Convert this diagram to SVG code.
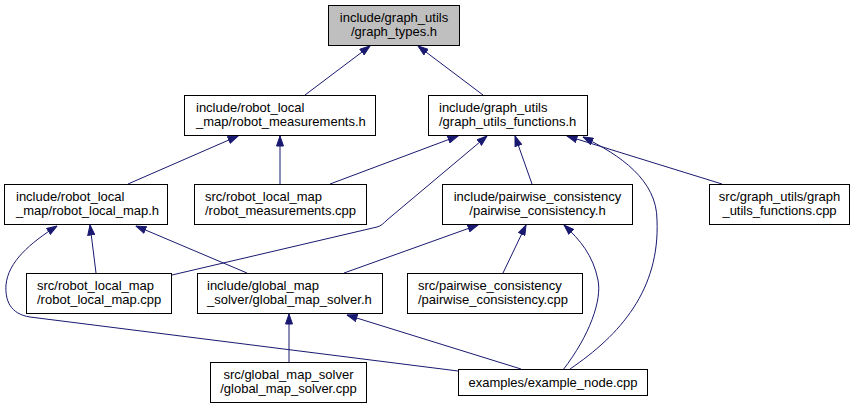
<svg xmlns="http://www.w3.org/2000/svg" width="857" height="409" viewBox="0 0 857 409">
<style>
.box{fill:#ffffff;stroke:#000000;stroke-width:1}
.root{fill:#bfbfbf;stroke:#000000;stroke-width:1}
text{font-family:"Liberation Sans",Arial,sans-serif;font-size:13px;fill:#000000}
.c{text-anchor:middle}
.e{fill:none;stroke:#191970;stroke-width:1;marker-end:url(#ah)}
</style>
<defs>
<marker id="ah" markerUnits="userSpaceOnUse" markerWidth="11" markerHeight="8" viewBox="0 0 11 8" refX="10.5" refY="4" orient="auto">
<path d="M0.5,0.5 L10.5,4 L0.5,7.5 z" fill="#191970" stroke="#191970" stroke-width="1"/>
</marker>
</defs>
<rect width="857" height="409" fill="#ffffff"/>
<g id="edges">
<path class="e" d="M305,95 L370,46"/>
<path class="e" d="M483,95 L418,46"/>
<path class="e" d="M128,184 L238,136"/>
<path class="e" d="M280,184 L280,136"/>
<path class="e" d="M330,184 L458,136"/>
<path class="e" d="M172,275 L377,227 C381,226 384,223 387,220 L487,136"/>
<path class="e" d="M532,184 L515,136"/>
<path class="e" d="M722,184 L567,136"/>
<path class="e" d="M570,369 C620,335 660,290 657,220 C657,180 620,155 583,137"/>
<path class="e" d="M96,273 L90,225"/>
<path class="e" d="M247,273 L136,226"/>
<path class="e" d="M458,371 L30,317 C10,314 5,300 6,285 C8,262 30,243 57,226"/>
<path class="e" d="M344,273 L478,225"/>
<path class="e" d="M503,273 L526,225"/>
<path class="e" d="M563,370 C590,335 602,300 598,280 C593,255 580,240 564,225"/>
<path class="e" d="M289,362 L289,314"/>
<path class="e" d="M521,369 L347,315"/>
</g>
<g id="n0"><rect class="root" x="328.5" y="5.5" width="131" height="40"/><text class="c" x="394" y="22">include/graph_utils</text><text class="c" x="394" y="36">/graph_types.h</text></g>
<g id="n1"><rect class="box" x="184.5" y="95.5" width="191" height="40"/><text x="196" y="112">include/robot_local</text><text x="196" y="126">_map/robot_measurements.h</text></g>
<g id="n2"><rect class="box" x="428.5" y="95.5" width="159" height="40"/><text x="439" y="112">include/graph_utils</text><text x="439" y="126">/graph_utils_functions.h</text></g>
<g id="n3"><rect class="box" x="4.5" y="184.5" width="163" height="40"/><text x="16" y="201">include/robot_local</text><text x="16" y="215">_map/robot_local_map.h</text></g>
<g id="n4"><rect class="box" x="194.5" y="184.5" width="172" height="40"/><text x="205" y="201">src/robot_local_map</text><text x="205" y="215">/robot_measurements.cpp</text></g>
<g id="n5"><rect class="box" x="442.5" y="184.5" width="190" height="40"/><text class="c" x="537.5" y="201">include/pairwise_consistency</text><text class="c" x="537.5" y="215">/pairwise_consistency.h</text></g>
<g id="n6"><rect class="box" x="709.5" y="184.5" width="140" height="40"/><text class="c" x="779.5" y="201">src/graph_utils/graph</text><text class="c" x="779.5" y="215">_utils_functions.cpp</text></g>
<g id="n7"><rect class="box" x="26.5" y="273.5" width="145" height="40"/><text x="37" y="290">src/robot_local_map</text><text x="37" y="304">/robot_local_map.cpp</text></g>
<g id="n8"><rect class="box" x="197.5" y="273.5" width="185" height="40"/><text x="207" y="290">include/global_map</text><text x="207" y="304">_solver/global_map_solver.h</text></g>
<g id="n9"><rect class="box" x="407.5" y="273.5" width="175" height="40"/><text x="418" y="290">src/pairwise_consistency</text><text x="418" y="304">/pairwise_consistency.cpp</text></g>
<g id="n10"><rect class="box" x="210.5" y="362.5" width="156" height="40"/><text class="c" x="288.5" y="379">src/global_map_solver</text><text class="c" x="288.5" y="393">/global_map_solver.cpp</text></g>
<g id="n11"><rect class="box" x="458.5" y="369.5" width="189" height="26"/><text class="c" x="553" y="387">examples/example_node.cpp</text></g>
</svg>
